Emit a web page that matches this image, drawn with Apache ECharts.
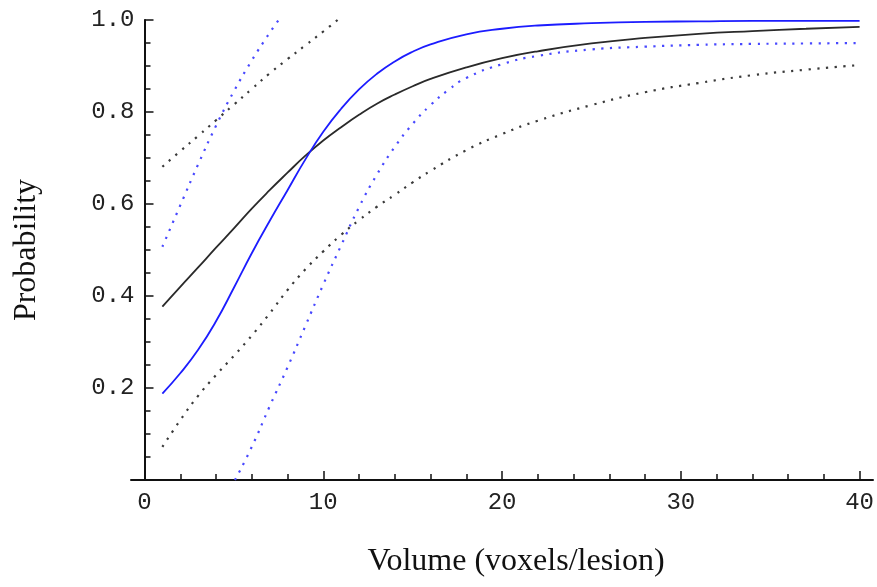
<!DOCTYPE html>
<html>
<head>
<meta charset="utf-8">
<script src="https://cdn.jsdelivr.net/npm/echarts@6/dist/echarts.min.js"></script>
<style>
html,body{margin:0;padding:0;background:#fff;}
#chart{width:877px;height:587px;}
</style>
</head>
<body>
<div id="chart"></div>
<script>
// x values (voxels/lesion) for the fitted curves and lower bounds
const xMain = [1,2,3,4,5,6,7,8,9,10,11,12,13,14,15,16,18,20,22,25,28,31,34,37,40];
const blackFit = [0.377,0.42,0.462,0.505,0.547,0.59,0.63,0.668,0.705,0.738,0.767,0.794,0.818,0.838,0.856,0.872,0.897,0.917,0.932,0.949,0.961,0.970,0.976,0.981,0.985];
const blueFit = [0.188,0.232,0.283,0.345,0.418,0.493,0.563,0.63,0.697,0.757,0.807,0.849,0.883,0.91,0.931,0.947,0.969,0.981,0.988,0.993,0.996,0.997,0.998,0.998,0.998];
const blackLower = [0.072,0.13,0.183,0.228,0.27,0.314,0.362,0.413,0.458,0.497,0.533,0.565,0.594,0.62,0.647,0.672,0.717,0.752,0.781,0.815,0.843,0.863,0.88,0.892,0.902];

const blueLowerX = [5.06,6,7,8,9,10,11,12,13,14,15,16,17,18,20,22,25,28,31,34,37,40];
const blueLower = [0,0.072,0.16,0.245,0.335,0.425,0.51,0.593,0.664,0.724,0.774,0.815,0.848,0.874,0.904,0.922,0.936,0.942,0.946,0.948,0.949,0.95];

const blackUpperX = [1,2,3,4,5,6,7,8,9,10,10.8];
const blackUpper = [0.681,0.715,0.748,0.782,0.816,0.85,0.884,0.915,0.945,0.975,1.0];

const blueUpperX = [1,2,3,4,5,6,7,7.5];
const blueUpper = [0.507,0.597,0.686,0.77,0.845,0.912,0.972,1.0];

const xTicks = [0,10,20,30,40];
const yTicks = [0.2,0.4,0.6,0.8,1.0];

const xTitle = 'Volume (voxels/lesion)';
const yTitle = 'Probability';

function pairs(xs, ys){ return xs.map((x,i)=>[x, ys[i]]); }

const chart = echarts.init(document.getElementById('chart'), null, {renderer:'canvas'});
const tickFont = {fontFamily:'Liberation Mono', fontSize:24, color:'#222'};
const titleFont = {fontFamily:'Liberation Serif', fontSize:32, color:'#111'};

function solid(name, data, color){
  return {name, type:'line', data, smooth:0.5, showSymbol:false, symbol:'none',
    lineStyle:{color, width:1.8, type:'solid'}, clip:true, z:3};
}
function dotted(name, data, color){
  return {name, type:'line', data, smooth:0.5, showSymbol:false, symbol:'none',
    lineStyle:{color, width:2.2, type:[2.2,6.5], cap:'butt'}, clip:true, z:2};
}

chart.setOption({
  animation:false,
  backgroundColor:'#fff',
  grid:[
    {left:144.5, right:16, top:20, bottom:107, containLabel:false},
    {left:131, right:4, top:20, bottom:107, containLabel:false}
  ],
  xAxis:[
    {type:'value', gridIndex:0, min:xTicks[0], max:xTicks[xTicks.length-1], interval:10,
     axisLine:{show:false},
     axisTick:{show:true, inside:true, length:9, lineStyle:{color:'#111', width:1.5}},
     minorTick:{show:true, splitNumber:5, length:6, lineStyle:{color:'#111', width:1.5}},
     splitLine:{show:false},
     axisLabel:{...tickFont, margin:11, formatter:v=>String(v)},
     name:xTitle, nameLocation:'middle', nameGap:66,
     nameTextStyle:{...titleFont, padding:[0,0,0,28]}},
    {type:'value', gridIndex:1, min:0, max:1,
     axisLine:{show:true, onZero:false, lineStyle:{color:'#111', width:2}},
     axisTick:{show:false}, axisLabel:{show:false}, splitLine:{show:false}}
  ],
  yAxis:[
    {type:'value', gridIndex:0, min:0, max:yTicks[yTicks.length-1], interval:0.2,
     axisLine:{show:true, lineStyle:{color:'#111', width:2}},
     axisTick:{show:true, inside:true, length:9, lineStyle:{color:'#111', width:1.5}},
     minorTick:{show:true, splitNumber:4, length:6, lineStyle:{color:'#111', width:1.5}},
     splitLine:{show:false},
     axisLabel:{...tickFont, margin:10, formatter:v=> v===0 ? '' : v.toFixed(1)},
     name:yTitle, nameLocation:'middle', nameGap:102, nameRotate:90,
     nameTextStyle:{...titleFont}},
    {type:'value', gridIndex:1, min:0, max:1, show:false}
  ],
  series:[
    dotted('Black upper', pairs(blackUpperX, blackUpper), '#3a3a3a'),
    dotted('Black lower', pairs(xMain, blackLower), '#3a3a3a'),
    dotted('Blue upper', pairs(blueUpperX, blueUpper), '#4848ff'),
    dotted('Blue lower', pairs(blueLowerX, blueLower), '#4848ff'),
    solid('Black fit', pairs(xMain, blackFit), '#2a2a2a'),
    solid('Blue fit', pairs(xMain, blueFit), '#1c1cff')
  ]
});
</script>
</body>
</html>
